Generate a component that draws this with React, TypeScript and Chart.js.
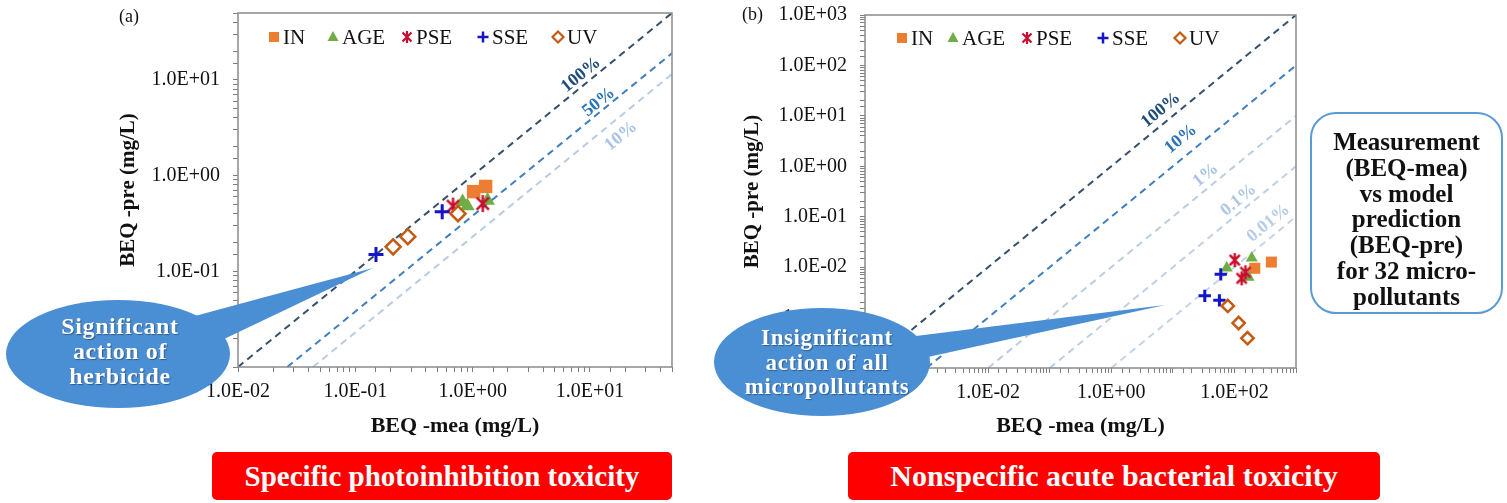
import React, { useEffect, useRef } from 'react';
import { Chart, registerables } from 'chart.js';

Chart.register(...registerables);

const SERIF = "'Liberation Serif', 'Times New Roman', Times, serif";

// ---------- data ----------
const seriesKeys = ['IN', 'AGE', 'PSE', 'SSE', 'UV'];

// (a) Specific photoinhibition toxicity
const photoINx = [1.02, 1.29];
const photoINy = [0.68, 0.77];
const photoAGEx = [0.82, 0.9, 1.34];
const photoAGEy = [0.53, 0.48, 0.55];
const photoPSEx = [0.68, 1.22];
const photoPSEy = [0.48, 0.51];
const photoSSEx = [0.15, 0.55];
const photoSSEy = [0.15, 0.42];
const photoUVx = [0.21, 0.28, 0.75];
const photoUVy = [0.18, 0.23, 0.4];

// (b) Nonspecific acute bacterial toxicity
const bactINx = [398, 214];
const bactINy = [0.0126, 0.0095];
const bactAGEx = [75, 191, 170];
const bactAGEy = [0.0096, 0.0151, 0.0063];
const bactPSEx = [101, 151, 131];
const bactPSEy = [0.0138, 0.0079, 0.006];
const bactSSEx = [60, 33, 57];
const bactSSEy = [0.0072, 0.0027, 0.0022];
const bactUVx = [78, 117, 163];
const bactUVy = [0.0017, 0.00078, 0.00039];

// reference lines (end points)
const photoLineLabels = ['100%', '50%', '10%'];
const photoLineX = [[0.01, 50], [0.0263, 50], [0.0435, 50]];
const photoLineY = [[0.01, 50], [0.01, 19], [0.01, 11.5]];
const photoLabelAt = [[8.4, 11.3], [11.9, 5.86], [18.4, 2.58]];

const bactLineLabels = ['100%', '10%', '1%', '0.1%', '0.01%'];
const bactLineX = [[1e-4, 1e3], [1e-3, 1e3], [1e-2, 1e3], [0.1, 1e3], [1, 1e3]];
const bactLineY = [[1e-4, 1e3], [1e-4, 100], [1e-4, 10], [1e-4, 1], [1e-4, 0.1]];
const bactLabelAt = [[6.4, 13], [13.5, 3.47], [34.2, 0.67], [117, 0.214], [357, 0.0746]];

// ---------- styles ----------
const COLORS: Record<string, string> = {
  IN: '#ED7D31',
  AGE: '#70AD47',
  PSE: '#C8102E',
  SSE: '#1414C8',
  UV: '#C55A11',
};
const photoLineColors = ['#34506C', '#3F7FBE', '#B7CCE3'];
const photoTextColors = ['#1F4E79', '#2E75B6', '#A9C4E4'];
const bactLineColors = ['#34506C', '#3F7FBE', '#BACDE2', '#BFD0E4', '#C4D4E8'];
const bactTextColors = ['#1F4E79', '#2E75B6', '#A9C4E4', '#AFC8E4', '#B6CDE8'];
const BUBBLE = '#4A8ED4';

function sci(v: number) {
  const e = Math.round(Math.log10(v));
  return '1.0E' + (e < 0 ? '-' : '+') + String(Math.abs(e)).padStart(2, '0');
}
function isPow10(v: number) {
  const l = Math.log10(v);
  return Math.abs(l - Math.round(l)) < 1e-6;
}

function makeAsterisk(size: number, color: string, lw: number) {
  const c = document.createElement('canvas');
  c.width = size;
  c.height = size;
  const g = c.getContext('2d')!;
  g.strokeStyle = color;
  g.lineWidth = lw;
  const m = size / 2;
  const r = size / 2 - 1;
  const d = r * 0.72;
  g.beginPath();
  g.moveTo(m, m - r);
  g.lineTo(m, m + r);
  g.moveTo(m - d, m - d);
  g.lineTo(m + d, m + d);
  g.moveTo(m + d, m - d);
  g.lineTo(m - d, m + d);
  g.stroke();
  return c;
}

function drawLegendMarker(ctx: CanvasRenderingContext2D, key: string, x: number, y: number) {
  ctx.save();
  const c = COLORS[key];
  ctx.fillStyle = c;
  ctx.strokeStyle = c;
  if (key === 'IN') {
    ctx.fillRect(x - 5, y - 5, 10, 10);
  } else if (key === 'AGE') {
    ctx.beginPath();
    ctx.moveTo(x, y - 6);
    ctx.lineTo(x + 5.5, y + 4);
    ctx.lineTo(x - 5.5, y + 4);
    ctx.closePath();
    ctx.fill();
  } else if (key === 'PSE') {
    ctx.lineWidth = 2.2;
    const r = 6, d = 4.5;
    ctx.beginPath();
    ctx.moveTo(x, y - r);
    ctx.lineTo(x, y + r);
    ctx.moveTo(x - d, y - d);
    ctx.lineTo(x + d, y + d);
    ctx.moveTo(x + d, y - d);
    ctx.lineTo(x - d, y + d);
    ctx.stroke();
  } else if (key === 'SSE') {
    ctx.lineWidth = 2.5;
    ctx.beginPath();
    ctx.moveTo(x - 5.5, y);
    ctx.lineTo(x + 5.5, y);
    ctx.moveTo(x, y - 5.5);
    ctx.lineTo(x, y + 5.5);
    ctx.stroke();
  } else if (key === 'UV') {
    ctx.lineWidth = 2.2;
    ctx.fillStyle = '#fff';
    ctx.beginPath();
    ctx.moveTo(x, y - 5.5);
    ctx.lineTo(x + 5.5, y);
    ctx.lineTo(x, y + 5.5);
    ctx.lineTo(x - 5.5, y);
    ctx.closePath();
    ctx.fill();
    ctx.stroke();
  }
  ctx.restore();
}

type Spec = {
  id: string;
  xMin: number; xMax: number; yMin: number; yMax: number;
  xEvery: number;
  yAxisWidth: number; xAxisHeight: number;
  padTop: number; padRight: number;
  yTitlePad: number; xTitlePad: number;
  series: { key: string; xs: number[]; ys: number[] }[];
  lineLabels: string[]; lineX: number[][]; lineY: number[][]; labelAt: number[][];
  lineColors: string[]; textColors: string[];
  big: boolean;
  legendOffsets: number[]; legendDy: number;
};

function buildChart(canvas: HTMLCanvasElement, spec: Spec) {
  const k = spec.big ? 1 : 0.82;
  const starImg = makeAsterisk(spec.big ? 19 : 16, COLORS.PSE, 2.5);
  const styleFor = (key: string) => {
    switch (key) {
      case 'IN':
        return { pointStyle: 'rect', backgroundColor: COLORS.IN, borderColor: COLORS.IN, borderWidth: 0, pointRadius: 9.5 * k, order: 5 };
      case 'AGE':
        return { pointStyle: 'triangle', backgroundColor: COLORS.AGE, borderColor: COLORS.AGE, borderWidth: 0, pointRadius: 8.5 * k, order: 4 };
      case 'PSE':
        return { pointStyle: starImg, backgroundColor: COLORS.PSE, borderColor: COLORS.PSE, borderWidth: 0, pointRadius: 9 * k, order: 3 };
      case 'SSE':
        return { pointStyle: 'cross', backgroundColor: COLORS.SSE, borderColor: COLORS.SSE, borderWidth: 3, pointRadius: 7.5 * k, order: 2 };
      default:
        return { pointStyle: 'rectRot', backgroundColor: '#ffffff', borderColor: COLORS.UV, borderWidth: 2.5, pointRadius: 7.5 * k, order: 1 };
    }
  };

  const datasets: any[] = [];
  spec.lineLabels.forEach((lab, i) => {
    datasets.push({
      type: 'line',
      label: lab,
      data: [
        { x: spec.lineX[i][0], y: spec.lineY[i][0] },
        { x: spec.lineX[i][1], y: spec.lineY[i][1] },
      ],
      borderColor: spec.lineColors[i],
      borderWidth: 2,
      borderDash: [7, 5],
      pointRadius: 0,
      fill: false,
      order: 10,
    });
  });
  spec.series.forEach((s) => {
    datasets.push({
      type: 'scatter',
      label: s.key,
      data: s.xs.map((x, i) => ({ x, y: s.ys[i] })),
      pointHoverRadius: 0,
      ...styleFor(s.key),
    });
  });

  const borderPlugin = {
    id: 'plotBorder' + spec.id,
    afterDraw(chart: any) {
      const { ctx, chartArea: a } = chart;
      ctx.save();
      ctx.strokeStyle = '#8a8a8a';
      ctx.lineWidth = 1.5;
      ctx.strokeRect(a.left, a.top, a.right - a.left, a.bottom - a.top);
      ctx.restore();
    },
  };

  const lineLabelPlugin = {
    id: 'lineLabels' + spec.id,
    afterDatasetsDraw(chart: any) {
      const { ctx } = chart;
      const xs = chart.scales.x;
      const ys = chart.scales.y;
      spec.lineLabels.forEach((lab, i) => {
        const x0 = xs.getPixelForValue(spec.lineX[i][0]);
        const y0 = ys.getPixelForValue(spec.lineY[i][0]);
        const x1 = xs.getPixelForValue(spec.lineX[i][1]);
        const y1 = ys.getPixelForValue(spec.lineY[i][1]);
        const ang = Math.atan2(y1 - y0, x1 - x0);
        const px = xs.getPixelForValue(spec.labelAt[i][0]);
        const py = ys.getPixelForValue(spec.labelAt[i][1]);
        ctx.save();
        ctx.translate(px, py);
        ctx.rotate(ang);
        ctx.font = `bold 18px ${SERIF}`;
        ctx.fillStyle = spec.textColors[i];
        ctx.textAlign = 'center';
        ctx.textBaseline = 'middle';
        ctx.fillText(lab, 0, 0);
        ctx.restore();
      });
    },
  };

  const legendPlugin = {
    id: 'innerLegend' + spec.id,
    afterDraw(chart: any) {
      const { ctx, chartArea } = chart;
      const y = chartArea.top + spec.legendDy;
      ctx.save();
      seriesKeys.forEach((key, i) => {
        const mx = chartArea.left + spec.legendOffsets[i];
        drawLegendMarker(ctx, key, mx, y);
        ctx.font = `21px ${SERIF}`;
        ctx.fillStyle = '#111';
        ctx.textAlign = 'left';
        ctx.textBaseline = 'middle';
        ctx.fillText(key, mx + 9, y + 1);
      });
      ctx.restore();
    },
  };

  const tickFont = { family: SERIF, size: 20, lineHeight: 1.2 };
  const grid = { display: true, drawOnChartArea: false, drawTicks: true, tickLength: 5, color: '#808080', lineWidth: 1 };

  return new Chart(canvas, {
    type: 'scatter',
    data: { datasets },
    options: {
      animation: false,
      responsive: false,
      devicePixelRatio: 1,
      events: [],
      layout: { padding: { left: 0, top: spec.padTop, right: spec.padRight, bottom: 0 } },
      plugins: {
        legend: { display: false },
        tooltip: { enabled: false },
        title: { display: false },
      },
      scales: {
        x: {
          type: 'logarithmic',
          position: 'bottom',
          min: spec.xMin,
          max: spec.xMax,
          afterFit: (s: any) => {
            s.height = spec.xAxisHeight;
            s.paddingLeft = 0;
            s.paddingRight = 0;
          },
          grid,
          border: { display: false },
          ticks: {
            autoSkip: false,
            maxRotation: 0,
            minRotation: 0,
            padding: 8,
            color: '#111',
            font: tickFont,
            callback: (v: any) => {
              const n = Number(v);
              if (!isPow10(n)) return '';
              const e = Math.round(Math.log10(n));
              return e % spec.xEvery === 0 ? sci(n) : '';
            },
          },
          title: {
            display: true,
            text: 'BEQ -mea (mg/L)',
            color: '#111',
            font: { family: SERIF, size: 22, weight: 'bold', lineHeight: 1.2 },
            padding: { top: 0, bottom: spec.xTitlePad },
          },
        },
        y: {
          type: 'logarithmic',
          position: 'left',
          min: spec.yMin,
          max: spec.yMax,
          afterFit: (s: any) => {
            s.width = spec.yAxisWidth;
            s.paddingTop = 0;
            s.paddingBottom = 0;
          },
          grid,
          border: { display: false },
          ticks: {
            autoSkip: false,
            padding: 13,
            color: '#111',
            font: tickFont,
            callback: (v: any) => (isPow10(Number(v)) ? sci(Number(v)) : ''),
          },
          title: {
            display: true,
            text: 'BEQ -pre (mg/L)',
            color: '#111',
            font: { family: SERIF, size: 21, weight: 'bold', lineHeight: 1.2 },
            padding: { top: spec.yTitlePad, bottom: 0 },
          },
        },
      },
    } as any,
    plugins: [lineLabelPlugin, borderPlugin, legendPlugin] as any,
  });
}

const photoSpec: Spec = {
  id: 'a',
  xMin: 0.01, xMax: 50, yMin: 0.01, yMax: 50,
  xEvery: 1,
  yAxisWidth: 138, xAxisHeight: 78,
  padTop: 13, padRight: 28,
  yTitlePad: 16, xTitlePad: 5,
  series: [
    { key: 'IN', xs: photoINx, ys: photoINy },
    { key: 'AGE', xs: photoAGEx, ys: photoAGEy },
    { key: 'PSE', xs: photoPSEx, ys: photoPSEy },
    { key: 'SSE', xs: photoSSEx, ys: photoSSEy },
    { key: 'UV', xs: photoUVx, ys: photoUVy },
  ],
  lineLabels: photoLineLabels, lineX: photoLineX, lineY: photoLineY, labelAt: photoLabelAt,
  lineColors: photoLineColors, textColors: photoTextColors,
  big: true,
  legendOffsets: [36, 95, 169, 245, 320], legendDy: 24,
};

const bactSpec: Spec = {
  id: 'b',
  xMin: 1e-4, xMax: 1e3, yMin: 1e-4, yMax: 1e3,
  xEvery: 2,
  yAxisWidth: 165, xAxisHeight: 77,
  padTop: 15, padRight: 14,
  yTitlePad: 40, xTitlePad: 5,
  series: [
    { key: 'IN', xs: bactINx, ys: bactINy },
    { key: 'AGE', xs: bactAGEx, ys: bactAGEy },
    { key: 'PSE', xs: bactPSEx, ys: bactPSEy },
    { key: 'SSE', xs: bactSSEx, ys: bactSSEy },
    { key: 'UV', xs: bactUVx, ys: bactUVy },
  ],
  lineLabels: bactLineLabels, lineX: bactLineX, lineY: bactLineY, labelAt: bactLabelAt,
  lineColors: bactLineColors, textColors: bactTextColors,
  big: false,
  legendOffsets: [37, 88, 162, 238, 315], legendDy: 23,
};

const abs = (l: number, t: number, extra: any = {}) => ({ position: 'absolute' as const, left: l, top: t, ...extra });

export default function App() {
  const leftRef = useRef<HTMLCanvasElement>(null);
  const rightRef = useRef<HTMLCanvasElement>(null);

  useEffect(() => {
    const a = buildChart(leftRef.current!, photoSpec);
    const b = buildChart(rightRef.current!, bactSpec);
    return () => {
      a.destroy();
      b.destroy();
    };
  }, []);

  const bubbleText = {
    color: '#fff',
    fontFamily: SERIF,
    fontWeight: 'bold' as const,
    textAlign: 'center' as const,
    textShadow: '1px 1px 1px rgba(0,0,0,0.35)',
    letterSpacing: '0.6px',
  };

  return (
    <div style={{ position: 'absolute', left: 0, top: 0, width: 1507, height: 503, background: '#fff', overflow: 'hidden', fontFamily: SERIF }}>
      <canvas ref={leftRef} width={600} height={445} style={abs(100, 0, { width: 600, height: 445 })} />
      <canvas ref={rightRef} width={610} height={445} style={abs(700, 0, { width: 610, height: 445 })} />

      <div style={abs(119, 5, { fontSize: 18, color: '#111', lineHeight: '22px' })}>(a)</div>
      <div style={abs(742, 3, { fontSize: 18, color: '#111', lineHeight: '22px' })}>(b)</div>

      <svg width={1507} height={503} style={abs(0, 0, { pointerEvents: 'none' })}>
        <polygon points="195,316 373,268 222,340" fill={BUBBLE} />
        <ellipse cx={118} cy={354} rx={112} ry={54} fill={BUBBLE} />
        <polygon points="900,338 1165,305 905,362" fill={BUBBLE} />
        <ellipse cx={822} cy={362} rx={108} ry={54} fill={BUBBLE} />
      </svg>

      <div style={abs(10, 314, { width: 220, fontSize: 24, lineHeight: '25px', ...bubbleText })}>
        Significant<br />action of<br />herbicide
      </div>
      <div style={abs(712, 326, { width: 230, fontSize: 23, lineHeight: '24.5px', ...bubbleText })}>
        Insignificant<br />action of all<br />micropollutants
      </div>

      <div
        style={abs(1310, 112, {
          width: 193,
          height: 202,
          boxSizing: 'border-box',
          border: '2.5px solid #5B9BD5',
          borderRadius: 26,
          paddingTop: 15,
          textAlign: 'center',
          fontSize: 25,
          fontWeight: 'bold',
          lineHeight: '25.8px',
          color: '#111',
        })}
      >
        Measurement<br />(BEQ-mea)<br />vs model<br />prediction<br />(BEQ-pre)<br />for 32 micro-<br />pollutants
      </div>

      <div
        style={abs(212, 452, {
          width: 460,
          height: 48,
          background: '#FF0000',
          borderRadius: 5,
          color: '#fff',
          fontWeight: 'bold',
          fontSize: 29,
          lineHeight: '48px',
          textAlign: 'center',
        })}
      >
        Specific photoinhibition toxicity
      </div>
      <div
        style={abs(848, 452, {
          width: 532,
          height: 48,
          background: '#FF0000',
          borderRadius: 5,
          color: '#fff',
          fontWeight: 'bold',
          fontSize: 30,
          lineHeight: '48px',
          textAlign: 'center',
        })}
      >
        Nonspecific acute bacterial toxicity
      </div>
    </div>
  );
}
